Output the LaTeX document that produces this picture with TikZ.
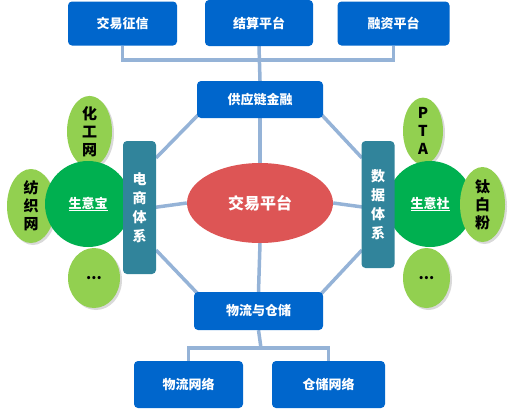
\documentclass[tikz,border=0pt]{standalone}
\usepackage{fontspec}
\newfontfamily\cjk{Noto Sans CJK SC}
\usetikzlibrary{shapes.geometric,shadows}
\definecolor{bluebox}{HTML}{0066CC}
\definecolor{tealbox}{HTML}{31849B}
\definecolor{darkgreen}{HTML}{00B050}
\definecolor{lightgreen}{HTML}{92D050}
\definecolor{redell}{HTML}{DD5555}
\definecolor{conncol}{HTML}{95B3D7}
\pgfdeclarelayer{bg}
\pgfsetlayers{bg,main}
\tikzset{
  bbox/.style={rectangle, rounded corners=4pt, fill=bluebox, text=white, font=\cjk\bfseries\fontsize{13}{15}\selectfont, inner sep=0pt},
  tbox/.style={rectangle, rounded corners=4pt, fill=tealbox, text=white, font=\cjk\bfseries\fontsize{14}{19}\selectfont, align=center, inner sep=0pt, minimum width=33pt},
  bigc/.style={circle, fill=darkgreen, text=white, font=\cjk\bfseries\fontsize{13}{15}\selectfont, inner sep=0pt, minimum size=86pt},
  smalle/.style={ellipse, fill=lightgreen, text=black, font=\cjk\bfseries\fontsize{15}{18}\selectfont, align=center, inner sep=0pt, drop shadow={shadow xshift=2pt, shadow yshift=-2pt, opacity=0.3}},
  conn/.style={draw=conncol, line width=3.5pt},
}
\begin{document}
\begin{tikzpicture}[x=1pt,y=-1pt]
\useasboundingbox (0,0) rectangle (513,408);
\coordinate (bus) at (260,60);
\coordinate (o1) at (200,113);
\coordinate (o2) at (156,158);
\coordinate (o3) at (320,113);
\coordinate (o4) at (362,158);
\coordinate (o5) at (156,250);
\coordinate (o6) at (199,295);
\coordinate (o7) at (362,250);
\coordinate (o8) at (320,295);
\coordinate (h1) at (150,208);
\coordinate (h2) at (370,208);
\coordinate (vb) at (261,348);

% boxes
\node[bbox, minimum width=109pt, minimum height=44pt] (zx) at (122.5,23.5) {交易征信};
\node[bbox, minimum width=108pt, minimum height=46pt] (js) at (259,23) {结算平台};
\node[bbox, minimum width=112pt, minimum height=44pt] (rz) at (393.5,23.5) {融资平台};
\node[bbox, minimum width=126pt, minimum height=37pt] (gy) at (260,99.5) {供应链金融};
\node[bbox, minimum width=129pt, minimum height=38pt] (wl) at (258.5,311) {物流与仓储};
\node[bbox, minimum width=109pt, minimum height=47pt] (wlw) at (188.5,384.5) {物流网络};
\node[bbox, minimum width=113pt, minimum height=47pt] (ccw) at (328.5,384.5) {仓储网络};
\node[ellipse, fill=redell, text=white, font=\cjk\bfseries\fontsize{16}{18}\selectfont, minimum width=146pt, minimum height=80pt, inner sep=0pt] (jy) at (260,203) {交易平台};

\begin{pgfonlayer}{bg}
\draw[conn] (zx.south) |- (bus) -| (rz.south);
\draw[conn] (js.south) -- (gy.north);
\draw[conn] (o1) -- (o2);
\draw[conn] (o3) -- (o4);
\draw[conn] (o5) -- (o6);
\draw[conn] (o7) -- (o8);
\draw[conn] (h1) -- (jy.west);
\draw[conn] (jy.east) -- (h2);
\draw[conn] (gy.south) -- (jy.north);
\draw[conn] (jy.south) -- (wl.north);
\draw[conn] (wl.south) -- (vb);
\draw[conn] (wlw.north) |- (vb) -| (ccw.north);
\end{pgfonlayer}

% left cluster
\node[smalle, minimum width=45pt, minimum height=59pt] (hg) at (89.5,131.5) {化\\工\\网};
\node[smalle, minimum width=48pt, minimum height=74pt] (fz) at (31,206) {纺\\织\\网};
\node[bigc] (syb) at (88,204) {\underline{生意宝}};
\node[smalle, minimum width=52pt, minimum height=60pt] (l3) at (94,278) {...};
\node[tbox, minimum height=133pt] (ds) at (139.5,207.5) {电\\商\\体\\系};

% right cluster
\node[smalle, minimum width=40pt, minimum height=58pt] (pta) at (423,131) {P\\T\\A};
\node[bigc] (sys) at (430,204) {\underline{生意社}};
\node[smalle, minimum width=45pt, minimum height=75pt] (tb) at (482.5,204.5) {钛\\白\\粉};
\node[smalle, minimum width=47pt, minimum height=60pt] (r3) at (426.5,278) {...};
\node[tbox, minimum height=127pt] (sj) at (378,204.5) {数\\据\\体\\系};
\end{tikzpicture}
\end{document}
